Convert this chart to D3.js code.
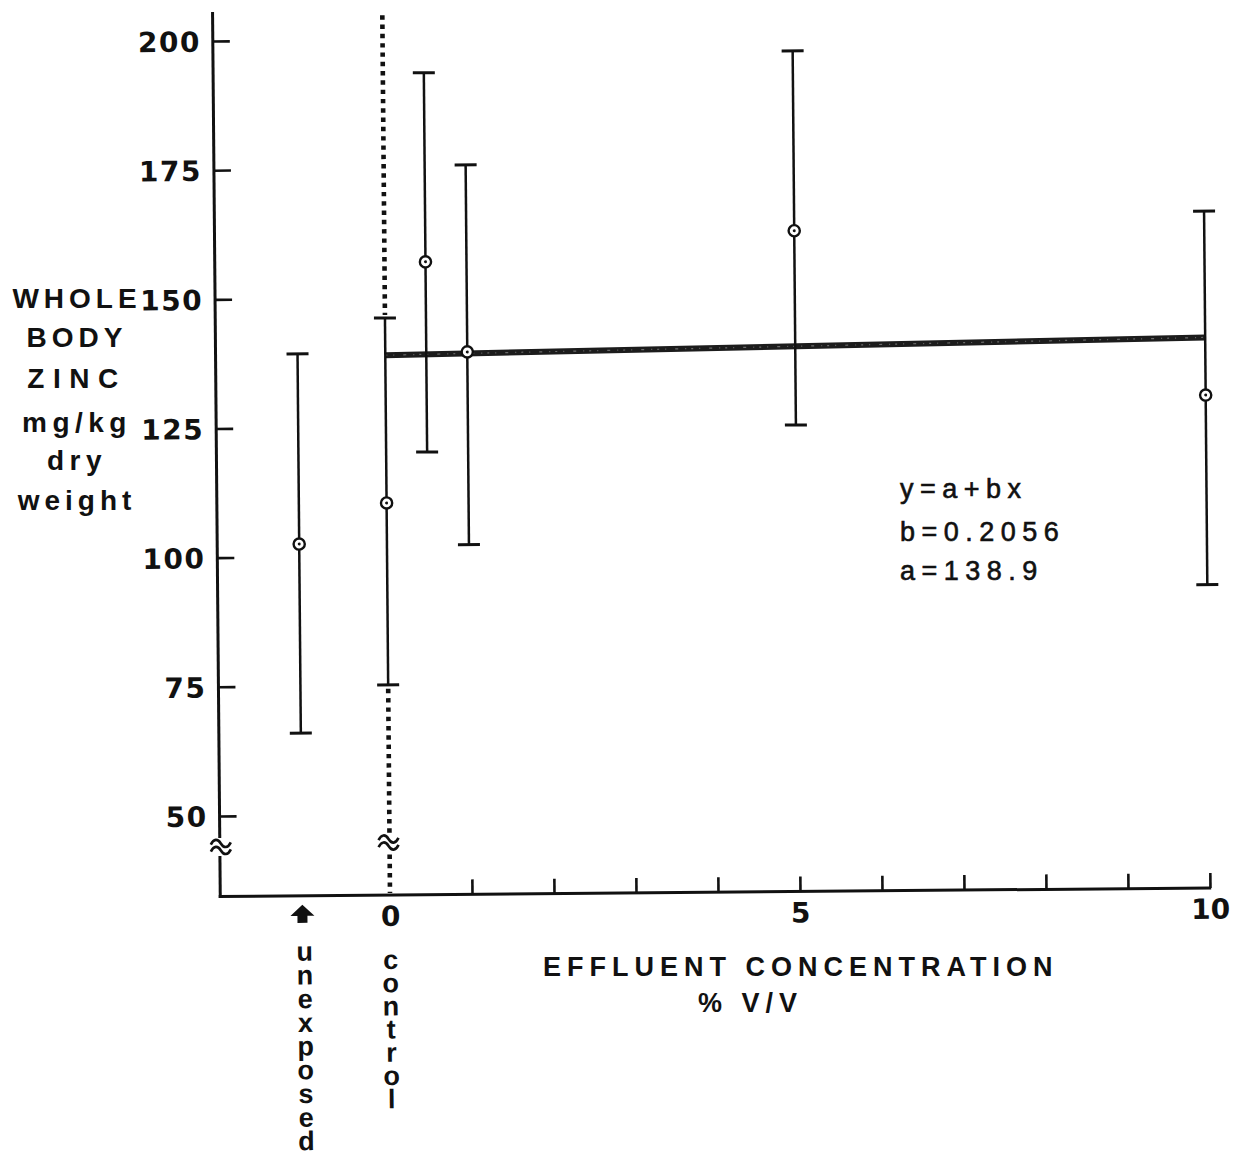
<!DOCTYPE html>
<html>
<head>
<meta charset="utf-8">
<script src="https://cdn.jsdelivr.net/npm/d3@7"></script>
<style>
  body { margin: 0; background: #fff; }
  svg { display: block; }
  .stacked { writing-mode: vertical-rl; text-orientation: upright; }
</style>
</head>
<body>
<svg id="chart" width="1243" height="1157"></svg>
<script>
// Whole-body zinc (mg/kg dry weight) against effluent concentration (% V/V)
const groups      = ["unexposed", "control", "0.5", "1", "5", "10"];
const concentration = [-1.07, 0, 0.5, 1, 5, 10];
const meanZinc    = [102.5, 110.3, 156.9, 139.4, 162.3, 129.8];
const upperZinc   = [139.3, 146.1, 193.5, 175.6, 197.1, 165.4];
const lowerZinc   = [65.9, 75.1, 120.1, 102.1, 124.7, 93.1];

const yTickValues = [50, 75, 100, 125, 150, 175, 200];
const xTickValues = [1, 2, 3, 4, 5, 6, 7, 8, 9, 10];
const xTickLabels = [0, 5, 10];

// fitted regression y = a + b x
const fitA = 138.9;
const fitB = 0.2056;
const fitRange = [0, 10];

const equationLines = ["y=a+bx", "b=0.2056", "a=138.9"];
const yTitleLines = ["WHOLE", "BODY", "ZINC", "mg/kg", "dry", "weight"];
const xTitleLines = ["EFFLUENT CONCENTRATION", "% V/V"];

// axis extents (data units)
const yAxisTop = 205.6;
const dottedTop = 204.7;
const yFloor = 34.4;
const yBreak = 44;
const xAxisStart = -2.07;

const ink = "#111";
const svg = d3.select("#chart");

const x = d3.scaleLinear().domain([0, 10]).range([390, 1210]);
const y = d3.scaleLinear().domain([50, 200]).range([814.5, 39.5]);

// the drawing sits very slightly tilted on the page
const plot = svg.append("g")
  .attr("transform", `rotate(-0.5, ${x(0)}, ${y(yFloor)})`);

const axisY0 = y(yFloor);
const axisX0 = x(xAxisStart);

function breakMark(g, cx, cy) {
  [-3.5, 3.5].forEach(off => {
    g.append("path")
      .attr("d", `M${cx - 10},${cy + off + 1} c3,-6 7,-6 10,-1 s7,5 10,-1`)
      .attr("fill", "none")
      .attr("stroke", ink)
      .attr("stroke-width", 2.6);
  });
}

// y axis line, interrupted by the break
const yb = y(yBreak);
plot.append("line")
  .attr("x1", axisX0).attr("x2", axisX0)
  .attr("y1", y(yAxisTop)).attr("y2", yb - 9)
  .attr("stroke", ink).attr("stroke-width", 3);
plot.append("line")
  .attr("x1", axisX0).attr("x2", axisX0)
  .attr("y1", yb + 9).attr("y2", axisY0 + 1.5)
  .attr("stroke", ink).attr("stroke-width", 3);
breakMark(plot, axisX0 + 1, yb);

// y ticks pointing inward, labels on the left
const yAxisG = plot.append("g")
  .attr("transform", `translate(${axisX0},0)`)
  .call(d3.axisLeft(y).tickValues(yTickValues)
    .tickSizeInner(-17).tickSizeOuter(0).tickPadding(12));
yAxisG.select(".domain").remove();
yAxisG.selectAll(".tick line").attr("stroke", ink).attr("stroke-width", 2.6);
yAxisG.selectAll(".tick text")
  .attr("fill", ink)
  .attr("font-family", "'DejaVu Sans', sans-serif")
  .attr("font-weight", "bold")
  .attr("font-size", 28)
  .attr("letter-spacing", 1.5)
  .attr("dy", "0.36em");

// x axis line
plot.append("line")
  .attr("x1", axisX0 - 1.5).attr("x2", x(10) + 1.2)
  .attr("y1", axisY0).attr("y2", axisY0)
  .attr("stroke", ink).attr("stroke-width", 3);

// x ticks pointing upward
const xTickG = plot.append("g")
  .attr("transform", `translate(0,${axisY0})`)
  .call(d3.axisBottom(x).tickValues(xTickValues)
    .tickSizeInner(-15).tickSizeOuter(0).tickFormat(""));
xTickG.select(".domain").remove();
xTickG.selectAll(".tick line").attr("stroke", ink).attr("stroke-width", 2.6);

// x tick labels
const xLabG = plot.append("g")
  .attr("transform", `translate(0,${axisY0})`)
  .call(d3.axisBottom(x).tickValues(xTickLabels)
    .tickSize(0).tickPadding(11).tickFormat(d3.format("d")));
xLabG.select(".domain").remove();
xLabG.selectAll(".tick text")
  .attr("fill", ink)
  .attr("font-family", "'DejaVu Sans', sans-serif")
  .attr("font-weight", "bold")
  .attr("font-size", 28);

// dotted line marking zero concentration (control)
const dotted = (y1, y2) => plot.append("line")
  .attr("x1", x(0)).attr("x2", x(0))
  .attr("y1", y1).attr("y2", y2)
  .attr("stroke", ink).attr("stroke-width", 4.6)
  .attr("stroke-dasharray", "4.4 4.9");
dotted(y(dottedTop), y(upperZinc[1]) - 3);
dotted(y(lowerZinc[1]) + 4, yb - 9);
dotted(yb + 9, axisY0 - 2);
breakMark(plot, x(0) - 1, yb - 3);

// regression line
const fitLine = d3.line().x(d => x(d)).y(d => y(fitA + fitB * d));
plot.append("path")
  .attr("d", fitLine(fitRange))
  .attr("fill", "none")
  .attr("stroke", "#1c1c1c")
  .attr("stroke-width", 6);
plot.append("path")
  .attr("d", fitLine(fitRange))
  .attr("fill", "none")
  .attr("stroke", "#8a8a8a")
  .attr("stroke-width", 1.2)
  .attr("stroke-dasharray", "2 6 1 9 3 7 1 5")
  .attr("opacity", 0.7);

// error bars with circled means
const rows = groups.map((g, i) => ({
  g, cx: concentration[i], m: meanZinc[i], hi: upperZinc[i], lo: lowerZinc[i]
}));
const bars = plot.append("g").selectAll("g").data(rows).join("g");
bars.append("line")
  .attr("x1", d => x(d.cx)).attr("x2", d => x(d.cx))
  .attr("y1", d => y(d.hi)).attr("y2", d => y(d.lo))
  .attr("stroke", ink).attr("stroke-width", 2.5);
bars.append("line")
  .attr("x1", d => x(d.cx) - 11).attr("x2", d => x(d.cx) + 11)
  .attr("y1", d => y(d.hi)).attr("y2", d => y(d.hi))
  .attr("stroke", ink).attr("stroke-width", 3);
bars.append("line")
  .attr("x1", d => x(d.cx) - 11).attr("x2", d => x(d.cx) + 11)
  .attr("y1", d => y(d.lo)).attr("y2", d => y(d.lo))
  .attr("stroke", ink).attr("stroke-width", 3);
bars.append("circle")
  .attr("cx", d => x(d.cx)).attr("cy", d => y(d.m))
  .attr("r", 5.6)
  .attr("fill", "#fff").attr("stroke", ink).attr("stroke-width", 2.4);
bars.append("circle")
  .attr("cx", d => x(d.cx)).attr("cy", d => y(d.m))
  .attr("r", 1.5).attr("fill", ink);

// arrow under the unexposed group
const ax = x(concentration[0]);
const ay = axisY0 + 18;
plot.append("path")
  .attr("d", `M${ax},${ay - 9} L${ax + 12},${ay + 2} L${ax + 5},${ay + 2} L${ax + 5},${ay + 9}
              L${ax - 5},${ay + 9} L${ax - 5},${ay + 2} L${ax - 12},${ay + 2} Z`)
  .attr("fill", ink);

// group names written top-to-bottom with upright letters;
// the upright advance of this face is about 1.104 em
function stackedWord(word, cx, top, step) {
  const size = 27;
  plot.append("text")
    .attr("class", "stacked")
    .attr("x", cx)
    .attr("y", top)
    .attr("font-family", "'Liberation Sans', Arial, sans-serif")
    .attr("font-weight", "bold")
    .attr("font-size", size)
    .attr("letter-spacing", step - 1.104 * size)
    .attr("fill", ink)
    .text(word);
}
stackedWord(groups[0], x(concentration[0]) + 2, 936, 23.5);
stackedWord(groups[1], x(0), 945, 23);

// y axis title
const yTitleBaselines = [308, 347, 388, 432, 470, 510];
const yTitleSpacing = [5, 5, 8.5, 5.5, 5.5, 5];
svg.append("g").selectAll("text")
  .data(yTitleLines)
  .join("text")
  .attr("x", 77)
  .attr("y", (d, i) => yTitleBaselines[i])
  .attr("text-anchor", "middle")
  .attr("letter-spacing", (d, i) => yTitleSpacing[i])
  .attr("font-family", "'Liberation Sans', Arial, sans-serif")
  .attr("font-weight", "bold")
  .attr("font-size", 28)
  .attr("fill", ink)
  .text(d => d);

// x axis title
const xTitlePos = [[543, 976], [698, 1012]];
svg.append("g").selectAll("text")
  .data(xTitleLines)
  .join("text")
  .attr("x", (d, i) => xTitlePos[i][0])
  .attr("y", (d, i) => xTitlePos[i][1])
  .attr("letter-spacing", 6)
  .attr("font-family", "'Liberation Sans', Arial, sans-serif")
  .attr("font-weight", "bold")
  .attr("font-size", 27)
  .attr("fill", ink)
  .text(d => d);

// regression equation
const eqBaselines = [498, 541, 580];
svg.append("g").selectAll("text")
  .data(equationLines)
  .join("text")
  .attr("x", 900)
  .attr("y", (d, i) => eqBaselines[i])
  .attr("letter-spacing", 6.5)
  .attr("font-family", "'Liberation Sans', Arial, sans-serif")
  .attr("font-size", 27)
  .attr("fill", ink)
  .attr("stroke", ink)
  .attr("stroke-width", 0.6)
  .text(d => d);
</script>
</body>
</html>
